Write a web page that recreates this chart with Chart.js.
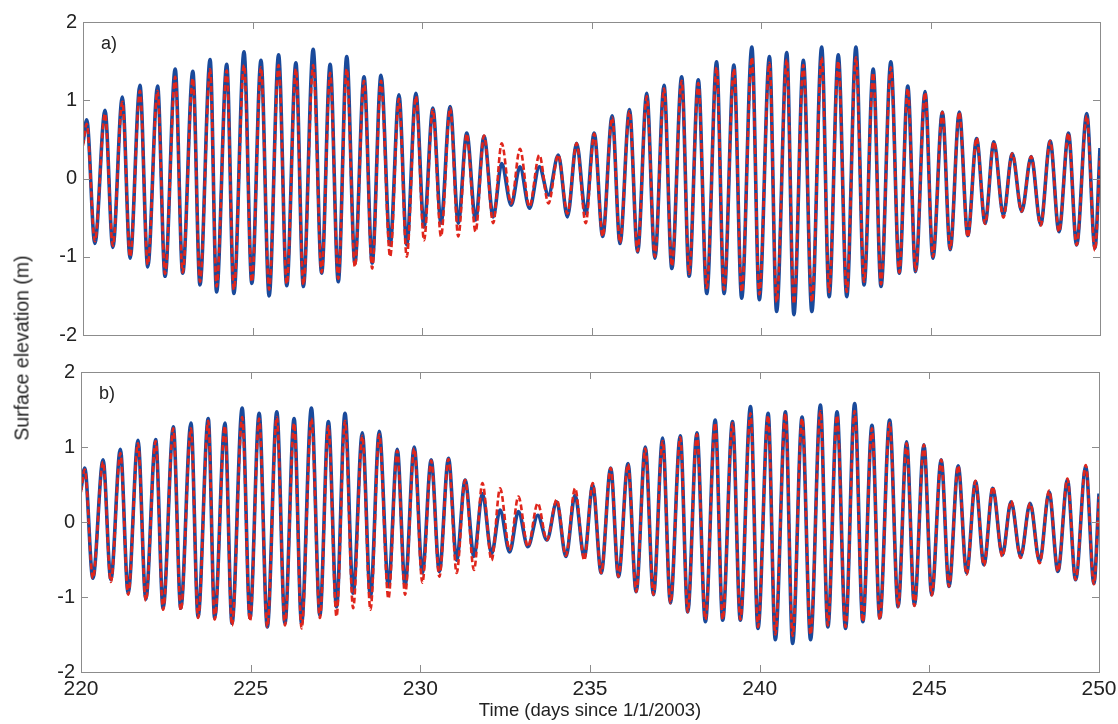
<!DOCTYPE html>
<html>
<head>
<meta charset="utf-8">
<script src="https://cdn.jsdelivr.net/npm/chart.js@4.4.1/dist/chart.umd.min.js"></script>
<style>
    body { margin: 0; background: #fff; width: 1118px; height: 724px; overflow: hidden; position: relative; font-family: "Liberation Sans", Arial, sans-serif; }
    #panelA { position: absolute; left: 0; top: 0; }
    #panelB { position: absolute; left: 0; top: 350px; }
    #yTitle { position: absolute; left: 22px; top: 348px; transform: translate(-50%, -50%) rotate(-90deg); font-size: 19.5px; color: #222; white-space: nowrap; }
</style>
</head>
<body>
<canvas id="panelA" width="1118" height="353"></canvas>
<canvas id="panelB" width="1135" height="374"></canvas>
<div id="yTitle">Surface elevation (m)</div>
<script>
// times of high and low water (days since 1/1/2003)
const timeHigh = [220.11, 220.65, 221.16, 221.68, 222.20, 222.72, 223.24, 223.75, 224.24, 224.75, 225.25, 225.77, 226.28, 226.79, 227.29,
    227.78, 228.29, 228.79, 229.32, 229.82, 230.32, 230.83, 231.32, 231.83, 232.35, 232.89, 233.46, 234.02, 234.56, 235.08,
    235.61, 236.12, 236.63, 237.14, 237.66, 238.15, 238.69, 239.20, 239.73, 240.25, 240.76, 241.25, 241.79, 242.28, 242.80,
    243.31, 243.83, 244.33, 244.84, 245.35, 245.85, 246.36, 246.87, 247.41, 247.97, 248.53, 249.07, 249.61];
const timeLow = [220.35, 220.88, 221.39, 221.91, 222.42, 222.94, 223.45, 223.94, 224.45, 224.98, 225.49, 226.01, 226.50, 227.04,
    227.53, 228.02, 228.53, 229.06, 229.55, 230.06, 230.56, 231.07, 231.58, 232.10, 232.63, 233.17, 233.73, 234.29, 234.83,
    235.33, 235.84, 236.36, 236.87, 237.37, 237.88, 238.40, 238.91, 239.43, 239.95, 240.46, 240.97, 241.50, 242.01, 242.53,
    243.04, 243.54, 244.08, 244.56, 245.07, 245.58, 246.10, 246.61, 247.15, 247.69, 248.25, 248.79, 249.31, 249.85];

// panel a) observed (blue) and model (red dashed)
const aObsHigh = [0.75, 0.87, 1.04, 1.19, 1.18, 1.40, 1.37, 1.52, 1.46, 1.62, 1.51, 1.58, 1.48, 1.65, 1.46,
    1.56, 1.30, 1.32, 1.07, 1.09, 0.90, 0.92, 0.58, 0.54, 0.19, 0.15, 0.15, 0.30, 0.45, 0.58,
    0.80, 0.88, 1.09, 1.19, 1.30, 1.26, 1.49, 1.45, 1.68, 1.56, 1.61, 1.51, 1.68, 1.58, 1.68,
    1.40, 1.49, 1.18, 1.11, 0.85, 0.85, 0.51, 0.47, 0.32, 0.28, 0.48, 0.58, 0.83];
const aObsLow = [-0.83, -0.88, -1.02, -1.13, -1.25, -1.21, -1.36, -1.45, -1.47, -1.34, -1.50, -1.37, -1.38, -1.21,
    -1.32, -1.08, -1.08, -0.85, -0.85, -0.62, -0.57, -0.57, -0.53, -0.49, -0.34, -0.38, -0.21, -0.49, -0.45,
    -0.74, -0.83, -0.94, -1.02, -1.15, -1.25, -1.47, -1.47, -1.53, -1.55, -1.70, -1.74, -1.70, -1.51, -1.51,
    -1.36, -1.38, -1.21, -1.19, -1.02, -0.91, -0.73, -0.57, -0.47, -0.42, -0.59, -0.68, -0.85, -0.89];
const aModHigh = [0.70, 0.83, 0.98, 1.12, 1.12, 1.30, 1.28, 1.40, 1.38, 1.45, 1.42, 1.45, 1.40, 1.45, 1.35,
    1.40, 1.25, 1.25, 1.02, 1.05, 0.88, 0.90, 0.57, 0.55, 0.45, 0.38, 0.30, 0.30, 0.45, 0.57,
    0.78, 0.86, 1.05, 1.15, 1.25, 1.22, 1.42, 1.40, 1.55, 1.48, 1.52, 1.45, 1.55, 1.50, 1.55,
    1.35, 1.42, 1.15, 1.10, 0.85, 0.85, 0.52, 0.47, 0.32, 0.28, 0.48, 0.58, 0.80];
const aModLow = [-0.80, -0.86, -1.00, -1.10, -1.22, -1.20, -1.32, -1.38, -1.42, -1.32, -1.42, -1.35, -1.36, -1.20,
    -1.28, -1.13, -1.15, -1.00, -1.00, -0.79, -0.74, -0.74, -0.68, -0.57, -0.32, -0.36, -0.32, -0.45, -0.57,
    -0.74, -0.82, -0.93, -1.00, -1.12, -1.22, -1.40, -1.42, -1.45, -1.48, -1.58, -1.60, -1.58, -1.45, -1.45,
    -1.32, -1.35, -1.20, -1.18, -1.00, -0.90, -0.75, -0.58, -0.50, -0.42, -0.60, -0.68, -0.85, -0.92];
const aObsEnds = [0.45, 0.39];
const aModEnds = [0.42, 0.28];

// panel b)
const bObsHigh = [0.72, 0.83, 0.97, 1.09, 1.10, 1.27, 1.32, 1.38, 1.32, 1.52, 1.45, 1.47, 1.38, 1.52, 1.34,
    1.45, 1.19, 1.21, 0.97, 1.00, 0.83, 0.85, 0.56, 0.38, 0.16, 0.14, 0.09, 0.27, 0.36, 0.49,
    0.72, 0.78, 1.00, 1.12, 1.15, 1.19, 1.36, 1.34, 1.54, 1.45, 1.47, 1.40, 1.56, 1.47, 1.58,
    1.29, 1.36, 1.07, 1.03, 0.83, 0.75, 0.54, 0.45, 0.27, 0.25, 0.40, 0.56, 0.74];
const bObsLow = [-0.75, -0.77, -0.95, -1.03, -1.15, -1.15, -1.26, -1.28, -1.35, -1.28, -1.40, -1.35, -1.35, -1.24,
    -1.13, -0.95, -1.00, -0.86, -0.85, -0.68, -0.66, -0.51, -0.46, -0.42, -0.40, -0.33, -0.24, -0.46, -0.47,
    -0.68, -0.73, -0.93, -0.97, -1.08, -1.20, -1.33, -1.31, -1.31, -1.42, -1.57, -1.62, -1.57, -1.40, -1.42,
    -1.33, -1.28, -1.13, -1.11, -0.97, -0.86, -0.68, -0.57, -0.44, -0.46, -0.53, -0.66, -0.77, -0.82];
const bModHigh = [0.70, 0.80, 0.92, 1.05, 1.08, 1.25, 1.25, 1.35, 1.28, 1.40, 1.38, 1.40, 1.32, 1.38, 1.28,
    1.35, 1.15, 1.17, 0.95, 0.98, 0.82, 0.84, 0.56, 0.52, 0.45, 0.34, 0.25, 0.30, 0.45, 0.52,
    0.72, 0.77, 0.98, 1.08, 1.13, 1.17, 1.32, 1.32, 1.45, 1.42, 1.45, 1.38, 1.48, 1.42, 1.48,
    1.25, 1.32, 1.05, 1.03, 0.83, 0.75, 0.55, 0.47, 0.28, 0.25, 0.42, 0.58, 0.76];
const bModLow = [-0.75, -0.80, -0.97, -1.05, -1.17, -1.18, -1.28, -1.30, -1.38, -1.32, -1.40, -1.38, -1.42, -1.28,
    -1.26, -1.15, -1.17, -1.02, -0.97, -0.81, -0.73, -0.68, -0.64, -0.51, -0.37, -0.33, -0.24, -0.45, -0.51,
    -0.68, -0.73, -0.93, -0.97, -1.08, -1.20, -1.30, -1.30, -1.30, -1.40, -1.50, -1.52, -1.50, -1.38, -1.40,
    -1.33, -1.30, -1.13, -1.12, -0.98, -0.86, -0.70, -0.58, -0.46, -0.48, -0.55, -0.66, -0.77, -0.83];
const bObsEnds = [0.43, 0.38];
const bModEnds = [0.40, 0.34];

const xTickValues = [220, 225, 230, 235, 240, 245, 250];
const yTickValues = [-2, -1, 0, 1, 2];

const obsColor = '#1a4a9b';
const modColor = '#e0261c';
const textColor = '#222';
const fontFamily = '"Liberation Sans", Arial, sans-serif';

// merge highs and lows into one time-ordered series
function buildSeries(ends, highs, lows) {
    const pts = [{x: xTickValues[0], y: ends[0]}];
    highs.forEach((v, i) => pts.push({x: timeHigh[i], y: v}));
    lows.forEach((v, i) => pts.push({x: timeLow[i], y: v}));
    pts.push({x: xTickValues[xTickValues.length - 1], y: ends[1]});
    return pts.sort((p, q) => p.x - q.x);
}

// box with inward ticks + panel letter
const framePlugin = {
    id: 'frame',
    afterDraw(chart, args, opts) {
        const {ctx, chartArea: a, scales: {x, y}} = chart;
        ctx.save();
        ctx.strokeStyle = '#8c8c8c';
        ctx.lineWidth = 1;
        ctx.strokeRect(a.left + 0.5, a.top + 0.5, a.right - a.left, a.bottom - a.top);
        ctx.beginPath();
        xTickValues.forEach(v => {
            const px = Math.round(x.getPixelForValue(v)) + 0.5;
            ctx.moveTo(px, a.top); ctx.lineTo(px, a.top + 7);
            ctx.moveTo(px, a.bottom); ctx.lineTo(px, a.bottom - 7);
        });
        yTickValues.forEach(v => {
            const py = Math.round(y.getPixelForValue(v)) + 0.5;
            ctx.moveTo(a.left, py); ctx.lineTo(a.left + 7, py);
            ctx.moveTo(a.right, py); ctx.lineTo(a.right - 7, py);
        });
        ctx.stroke();
        ctx.fillStyle = textColor;
        ctx.font = '18px ' + fontFamily;
        ctx.fillText(opts.label, a.left + 18, a.top + 27);
        ctx.restore();
    }
};

function makePanel(canvasId, label, obs, mod, bottomAxis, leftW, rightPad) {
    return new Chart(document.getElementById(canvasId), {
        type: 'line',
        data: {
            datasets: [
                {
                    data: mod,
                    borderColor: modColor,
                    borderWidth: 2.6,
                    borderDash: [6, 3],
                    order: 0
                },
                {
                    data: obs,
                    borderColor: obsColor,
                    borderWidth: 3.6,
                    order: 1
                }
            ]
        },
        options: {
            responsive: false,
            animation: false,
            events: [],
            layout: {padding: {top: 22, right: rightPad, left: 0, bottom: 0}},
            elements: {
                point: {radius: 0},
                line: {cubicInterpolationMode: 'monotone', fill: false}
            },
            scales: {
                x: {
                    type: 'linear',
                    min: 220,
                    max: 250,
                    afterBuildTicks: s => { s.ticks = xTickValues.map(v => ({value: v})); },
                    grid: {display: false, drawTicks: false},
                    border: {display: false},
                    ticks: {
                        display: bottomAxis,
                        padding: 5,
                        maxRotation: 0,
                        color: textColor,
                        font: {family: fontFamily, size: 21}
                    },
                    title: {
                        display: bottomAxis,
                        text: 'Time (days since 1/1/2003)',
                        color: textColor,
                        padding: {top: 0, bottom: 2},
                        font: {family: fontFamily, size: 18.5}
                    },
                    afterFit: s => { s.height = bottomAxis ? 52 : 15; }
                },
                y: {
                    min: -2,
                    max: 2,
                    afterBuildTicks: s => { s.ticks = yTickValues.map(v => ({value: v})); },
                    grid: {display: false, drawTicks: false},
                    border: {display: false},
                    ticks: {
                        padding: 6,
                        color: textColor,
                        font: {family: fontFamily, size: 20}
                    },
                    afterFit: s => { s.width = leftW; }
                }
            },
            plugins: {
                legend: {display: false},
                tooltip: {enabled: false},
                frame: {label: label}
            }
        },
        plugins: [framePlugin]
    });
}

makePanel('panelA', 'a)', buildSeries(aObsEnds, aObsHigh, aObsLow), buildSeries(aModEnds, aModHigh, aModLow), false, 83, 18);
makePanel('panelB', 'b)', buildSeries(bObsEnds, bObsHigh, bObsLow), buildSeries(bModEnds, bModHigh, bModLow), true, 81, 36);
</script>
</body>
</html>
